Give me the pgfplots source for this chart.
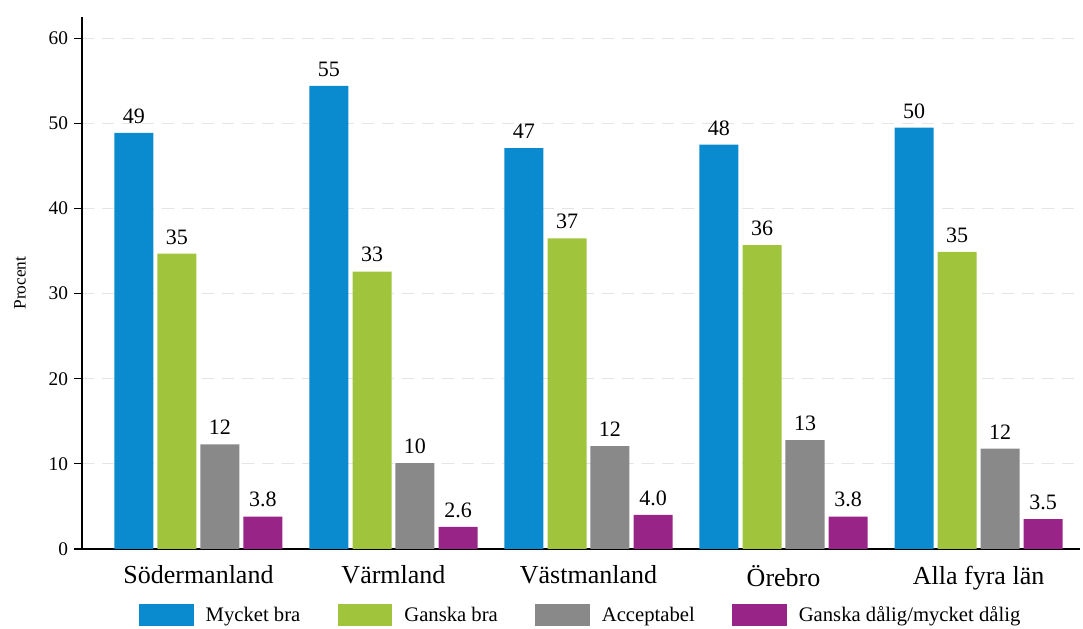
\documentclass[border=0pt]{standalone}
\usepackage{pgfplots}
\pgfplotsset{compat=1.18}
\usepackage{fontspec}
\setmainfont{Liberation Serif}
\definecolor{cblue}{RGB}{11,139,207}
\definecolor{cgreen}{RGB}{160,196,60}
\definecolor{cgrey}{RGB}{137,137,137}
\definecolor{cpurple}{RGB}{153,36,136}
\definecolor{cgrid}{RGB}{228,228,228}
\begin{document}
\begin{tikzpicture}[x=1pt,y=1pt]
\path[use as bounding box] (0,0) rectangle (812.25,471.75);
\begin{axis}[
  at={(61.5pt,60pt)}, anchor=south west,
  scale only axis, width=748.5pt, height=399pt,
  xmin=-0.597, xmax=4.52, ymin=0, ymax=62.5,
  ybar, bar width=0.2,
  axis y line*=left, axis x line*=bottom,
  axis line style={-, black, line width=0.8pt},
  xtick={0,1,2,3,4},
  xticklabels={Södermanland, Värmland, Västmanland, Örebro, Alla fyra län},
  xtick style={draw=none},
  xticklabel style={font=\fontsize{19.5}{22}\selectfont, yshift=-3pt},
  ytick={0,10,20,30,40,50,60},
  /pgf/number format/assume math mode=true,
  yticklabel style={font=\fontsize{14.5}{16}\selectfont, xshift=-1pt},
  ytick style={black, line width=0.8pt},
  tick align=outside, major tick length=6pt,
  ymajorgrids, grid style={cgrid, line width=0.9pt, dash pattern=on 9pt off 6pt},
  ylabel={Procent},
  ylabel style={font=\fontsize{13}{15}\selectfont, at={(axis description cs:0,0.5)}, anchor=center, yshift=46.5pt},
  point meta=explicit symbolic,
  nodes near coords,
  every node near coord/.append style={font=\fontsize{16.5}{18}\selectfont, black, anchor=south, yshift=3.5pt},
  legend columns=4,
  legend image code/.code={\draw[#1, draw=none] (0pt,-8.25pt) rectangle (41pt,8.25pt);},
  legend style={at={(0.5,-0.124)}, anchor=center, draw=none, fill=none,
    font=\fontsize{15.5}{17}\selectfont,
    /tikz/every even column/.append style={column sep=26pt},
    /tikz/every odd column/.append style={column sep=7pt}},
]
\addplot[fill=cblue, draw=none, bar shift=-0.331] coordinates {(0,48.9)[49] (1,54.4)[55] (2,47.1)[47] (3,47.5)[48] (4,49.5)[50]};
\addplot[fill=cgreen, draw=none, bar shift=-0.110] coordinates {(0,34.7)[35] (1,32.6)[33] (2,36.5)[37] (3,35.7)[36] (4,34.9)[35]};
\addplot[fill=cgrey, draw=none, bar shift=0.110] coordinates {(0,12.3)[12] (1,10.1)[10] (2,12.1)[12] (3,12.8)[13] (4,11.8)[12]};
\addplot[fill=cpurple, draw=none, bar shift=0.331] coordinates {(0,3.8)[3.8] (1,2.6)[2.6] (2,4.0)[4.0] (3,3.8)[3.8] (4,3.5)[3.5]};
\legend{Mycket bra, Ganska bra, Acceptabel, Ganska dålig/mycket dålig}
\end{axis}
\end{tikzpicture}
\end{document}
